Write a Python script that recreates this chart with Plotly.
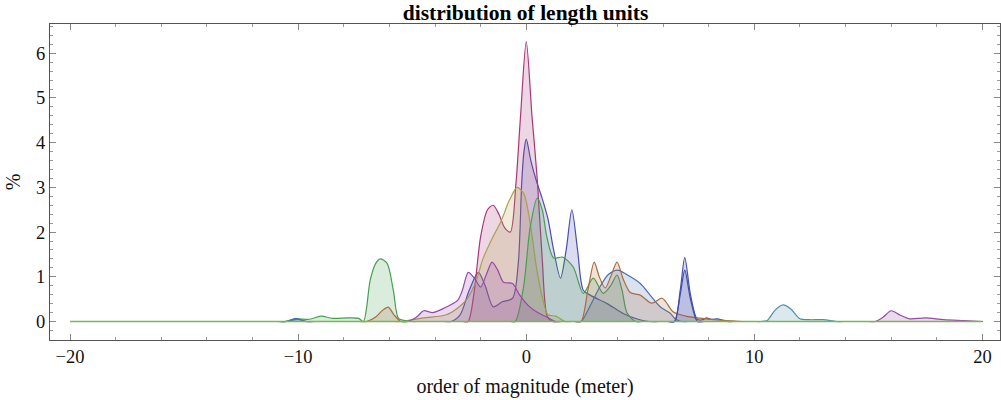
import plotly.graph_objects as go

# ---------------- data (order of magnitude in meters, percent) ----------------
x_blue = [-20, -10.8, -10.5, -10.0, -9.6, -9.3, -3.6, -3.3, -2.9, -2.5, -2.1, -1.8, -1.45, -1.05, -0.6, -0.35,
          -0.2, -0.1, 0, 0.2, 0.43, 0.7, 0.95, 1.2, 1.5, 1.75, 2.0, 2.25, 2.5, 2.8, 3.55, 4.25, 4.9, 5.4, 5.8, 6.2,
          6.5, 6.75, 6.95, 7.2, 7.5, 7.75, 7.9, 8.1, 8.4, 8.8, 9.1, 20]
y_blue = [0, 0, 0, 0.05, 0, 0, 0, 0, 0.15, 0.7, 1.1, 0.8, 0.33, 0.44, 0.52, 1.3,
          3.1, 3.8, 4.08, 3.6, 3.17, 2.75, 2.3, 1.6, 0.97, 1.6, 2.5, 1.6, 0.7, 0.59, 0.4, 0.18, 0.05, 0, 0, 0,
          0, 0.7, 1.43, 0.6, 0.05, 0.04, 0.08, 0.05, 0.06, 0, 0, 0]

x_magenta = [-20, -3.2, -2.8, -2.55, -2.3, -2.0, -1.7, -1.45, -1.2, -0.95, -0.7, -0.45, -0.25, 0, 0.25, 0.48, 0.7,
             0.92, 1.15, 1.5, 20]
y_magenta = [0, 0, 0, 0, 0.6, 1.9, 2.5, 2.6, 2.4, 2.1, 2.0, 3.1, 4.6, 6.26, 4.6, 3.2, 1.4,
             0.12, 0, 0, 0]

x_olive = [-20, -5.8, -5.5, -4.5, -3.5, -3.0, -2.6, -2.2, -1.9, -1.5, -1.1, -0.75, -0.4, -0.1, 0.2, 0.45, 0.7,
           0.95, 1.3, 1.7, 2.0, 20]
y_olive = [0, 0, 0, 0.08, 0.15, 0.3, 0.5, 0.9, 1.4, 1.85, 2.25, 2.7, 3.0, 2.85, 2.1, 1.2, 0.55,
           0.15, 0.12, 0, 0, 0]

x_green = [-20, -10.9, -10.6, -10.1, -9.5, -9.0, -8.5, -7.8, -7.35, -7.14, -6.84, -6.6, -6.4, -6.1, -5.83, -5.6,
           -5.3, -5.0, -4.7, -0.9, -0.7, -0.48, -0.12, 0.17, 0.48, 0.7, 0.9, 1.2, 1.6, 2.06, 2.5, 2.94, 3.37, 3.7,
           3.98, 4.2, 4.42, 4.8, 5.1, 20]
y_green = [0, 0, 0, 0.06, 0.05, 0.12, 0.07, 0.08, 0.07, 0.0, 0.93, 1.3, 1.4, 1.3, 0.7, 0.07,
           0.02, 0, 0, 0, 0, 0, 0.77, 2.1, 2.76, 2.5, 1.9, 1.42, 1.44, 1.22, 0.63, 0.97, 0.63, 0.8,
           1.04, 0.7, 0.19, 0, 0, 0]

x_steel = [-20, -10.8, -10.5, -10.1, -9.7, -9.4, 2.1, 2.4, 2.8, 3.2, 3.6, 4.0, 4.4, 5.0, 5.43, 5.87, 6.3, 6.55,
           6.8, 7.1, 20]
y_steel = [0, 0, 0, 0.07, 0, 0, 0, 0, 0.35, 0.75, 1.05, 1.15, 1.05, 0.85, 0.59, 0.33, 0.19, 0.05,
           0, 0, 0]

x_purple = [-20, -5.5, -5.2, -4.8, -4.5, -4.1, -3.6, -3.0, -2.8, -2.54, -2.25, -2.0, -1.75, -1.5, -1.25, -1.0,
            -0.6, -0.3, 0.1, 0.5, 0.9, 1.3, 1.6, 15.0, 15.3, 15.65, 16.0, 16.4, 16.8, 17.5, 18.3, 19.2, 20]
y_purple = [0, 0, 0, 0.1, 0.24, 0.2, 0.3, 0.48, 0.7, 1.1, 0.95, 0.77, 1.05, 1.33, 1.15, 0.88,
            0.85, 0.6, 0.35, 0.2, 0.1, 0, 0, 0, 0, 0.1, 0.24, 0.14, 0.06, 0.08, 0.04, 0.02, 0]

x_brown = [-20, -7.3, -7.0, -6.6, -6.3, -6.05, -5.8, -5.5, -5.2, 2.1, 2.4, 2.7, 2.98, 3.2, 3.46, 3.7, 3.98,
           4.25, 4.56, 5.0, 5.5, 5.96, 6.45, 7.0, 7.5, 8.5, 9.5, 9.8, 20]
y_brown = [0, 0, 0, 0.1, 0.25, 0.32, 0.15, 0, 0, 0, 0, 0.7, 1.33, 1.0, 0.75, 1.0, 1.33,
           0.95, 0.65, 0.59, 0.41, 0.52, 0.21, 0.12, 0.08, 0.03, 0, 0, 0]

x_navy = [-20, 6.2, 6.5, 6.75, 6.95, 7.2, 7.5, 7.8, 20]
y_navy = [0, 0, 0, 0.6, 1.15, 0.5, 0, 0, 0]

x_teal = [-20, 10.0, 10.3, 10.56, 10.9, 11.26, 11.6, 12.0, 12.4, 13.0, 13.6, 13.9, 20]
y_teal = [0, 0, 0, 0.02, 0.25, 0.37, 0.28, 0.06, 0.04, 0.04, 0, 0, 0]

x_lime = [-20, 20]
y_lime = [0, 0]

x_tickvals = [-20, -10, 0, 10, 20]
y_tickvals = [0, 1, 2, 3, 4, 5, 6]

# ---------------- figure ----------------
def rgba(hexc, a):
    h = hexc.lstrip('#')
    r, g, b = int(h[0:2], 16), int(h[2:4], 16), int(h[4:6], 16)
    return f"rgba({r},{g},{b},{a})"

series = [
    (x_blue, y_blue, '#4A50B0'),
    (x_magenta, y_magenta, '#A8387A'),
    (x_olive, y_olive, '#ADA048'),
    (x_green, y_green, '#46A050'),
    (x_steel, y_steel, '#4A70B0'),
    (x_purple, y_purple, '#9848AA'),
    (x_brown, y_brown, '#AA6C40'),
    (x_navy, y_navy, '#3C4CA8'),
    (x_teal, y_teal, '#4A90AA'),
]

fig = go.Figure()
for xs, ys, c in series:
    fig.add_trace(go.Scatter(
        x=xs, y=ys, mode='lines',
        line=dict(color=c, width=1.2, shape='spline', smoothing=0.8),
        fill='tozeroy', fillcolor=rgba(c, 0.2),
        showlegend=False, hoverinfo='skip'))

fig.add_trace(go.Scatter(x=x_lime, y=y_lime, mode='lines',
                         line=dict(color='#78B850', width=1.4),
                         showlegend=False, hoverinfo='skip'))

serif = "Liberation Serif, Times New Roman, serif"
axis_common = dict(
    showgrid=False, zeroline=False, showline=True, linecolor='#555555', linewidth=1,
    mirror='allticks', ticks='inside', tickcolor='#888888', ticklen=6, tickwidth=1,
    tickfont=dict(family=serif, size=18.5, color='#111111'),
)

fig.update_layout(
    width=1001, height=400,
    margin=dict(l=50, r=1, t=24, b=60),
    paper_bgcolor='white', plot_bgcolor='white',
    title=dict(text='<b>distribution of length units</b>', x=0.525, xanchor='center',
               y=0.968, yanchor='middle',
               font=dict(family=serif, size=21.5, color='black')),
    xaxis=dict(range=[-20.88, 20.77], tickvals=x_tickvals,
               minor=dict(dtick=2, ticks='inside', ticklen=3, tickcolor='#999999'),
               title=dict(text='order of magnitude (meter)', standoff=12,
                          font=dict(family=serif, size=20, color='#111111')),
               **axis_common),
    yaxis=dict(range=[-0.414, 6.655], tickvals=y_tickvals,
               minor=dict(dtick=0.2, ticks='inside', ticklen=3, tickcolor='#999999'),
               title=dict(text='%', standoff=10,
                          font=dict(family=serif, size=20, color='#111111')),
               **axis_common),
)

fig.write_html("out.html")
